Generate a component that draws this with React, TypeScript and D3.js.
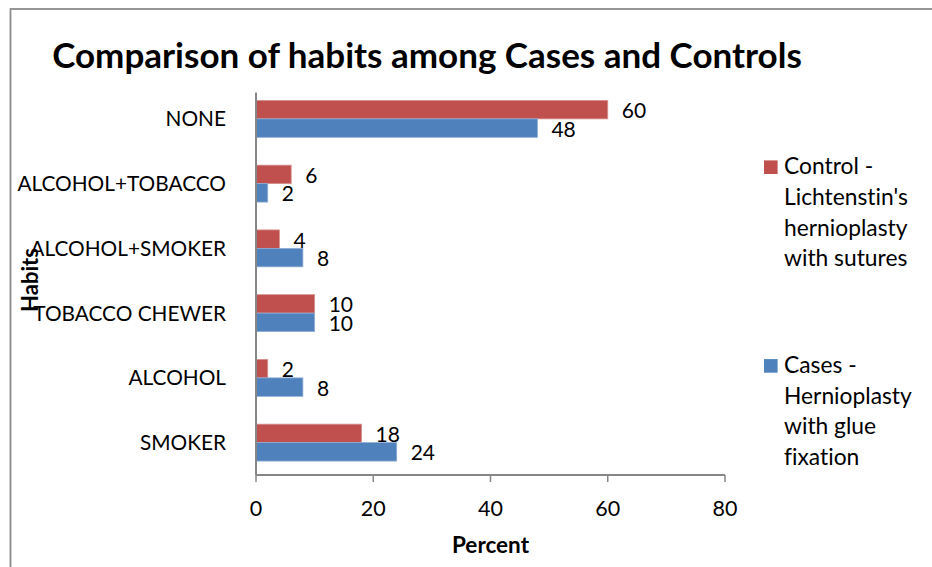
import React from "react";
import * as d3 from "d3";

// Habit categories, top to bottom
const categories: string[] = [
  "NONE",
  "ALCOHOL+TOBACCO",
  "ALCOHOL+SMOKER",
  "TOBACCO CHEWER",
  "ALCOHOL",
  "SMOKER",
];

// Percent of patients per habit
const controlValues: number[] = [60, 6, 4, 10, 2, 18];
const casesValues: number[] = [48, 2, 8, 10, 8, 24];

const xTicks: number[] = [0, 20, 40, 60, 80];

const seriesNames: string[][] = [
  ["Control -", "Lichtenstin's", "hernioplasty", "with sutures"],
  ["Cases -", "Hernioplasty", "with glue", "fixation"],
];

const W = 932;
const H = 567;
const FONT = "Lato, 'Open Sans', sans-serif";
const RED = "#C0504D";
const BLUE = "#4F81BD";
const AXIS = "#868686";

export default function App() {
  const x = d3.scaleLinear().domain([0, 80]).range([256, 725]);
  const y = d3
    .scaleBand<string>()
    .domain(categories)
    .range([86.5, 475])
    .paddingInner(0.43)
    .paddingOuter(0.215);
  const sub = d3
    .scaleBand<string>()
    .domain(["control", "cases"])
    .range([0, y.bandwidth()]);

  const series = [
    { key: "control", values: controlValues, color: RED, stroke: "#D5908E" },
    { key: "cases", values: casesValues, color: BLUE, stroke: "#8FADD5" },
  ];

  const x0 = x(0);
  const yBottom = y.range()[1];
  const lineH = 30.8;

  return (
    <svg
      width={W}
      height={H}
      style={{ position: "absolute", left: 0, top: 0, background: "#fff", fontVariantLigatures: "none" }}
      fontFamily={FONT}
    >
      <rect x={0} y={0} width={W} height={H} fill="#fff" />
      {/* chart frame */}
      <rect x={10.5} y={9} width={W + 20} height={H + 20} fill="none" stroke="#8C8C8C" strokeWidth={1.8} />

      <text x={427} y={68} textAnchor="middle" fontSize={35} fontWeight="bold" fill="#000">
        Comparison of habits among Cases and Controls
      </text>

      {/* bars */}
      {series.map((s) =>
        categories.map((c, i) => (
          <rect
            key={s.key + c}
            x={x0}
            y={(y(c) as number) + (sub(s.key) as number)}
            width={x(s.values[i]) - x0}
            height={sub.bandwidth()}
            fill={s.color}
            stroke={s.stroke}
            strokeWidth={0.8}
          />
        ))
      )}

      {/* value labels */}
      {series.map((s) =>
        categories.map((c, i) => (
          <text
            key={"l" + s.key + c}
            x={x(s.values[i]) + 14}
            y={(y(c) as number) + (sub(s.key) as number) + sub.bandwidth() / 2 + 8.6}
            fontSize={21}
            fill="#000"
          >
            {s.values[i]}
          </text>
        ))
      )}

      {/* category axis */}
      <line x1={x0} x2={x0} y1={92.5} y2={yBottom} stroke={AXIS} strokeWidth={2} />
      {categories.map((c) => (
        <text
          key={"c" + c}
          x={226}
          y={(y(c) as number) + y.bandwidth() / 2 + 7.5}
          textAnchor="end"
          fontSize={20.8}
          fill="#000"
        >
          {c}
        </text>
      ))}

      {/* value axis */}
      <line x1={x0} x2={x(80)} y1={yBottom} y2={yBottom} stroke={AXIS} strokeWidth={2} />
      {xTicks.map((t) => (
        <g key={"t" + t}>
          <line x1={x(t)} x2={x(t)} y1={yBottom} y2={yBottom + 7} stroke={AXIS} strokeWidth={1.5} />
          <text x={x(t)} y={516} textAnchor="middle" fontSize={21.5} fill="#000">
            {t}
          </text>
        </g>
      ))}

      <text x={(x(0) + x(80)) / 2} y={553} textAnchor="middle" fontSize={22.5} fontWeight="bold" fill="#000">
        Percent
      </text>
      <text
        transform="translate(38,280) rotate(-90)"
        textAnchor="middle"
        fontSize={22}
        fontWeight="bold"
        fill="#000"
      >
        Habits
      </text>

      {/* legend */}
      {series.map((s, k) => {
        const base = k === 0 ? 174 : 372.7;
        return (
          <g key={"lg" + s.key}>
            <rect x={764} y={base - 13.6} width={13.6} height={13.6} fill={s.color} />
            {seriesNames[k].map((line, j) => (
              <text key={j} x={784} y={base + j * lineH} fontSize={22.8} fill="#000">
                {line}
              </text>
            ))}
          </g>
        );
      })}
    </svg>
  );
}
